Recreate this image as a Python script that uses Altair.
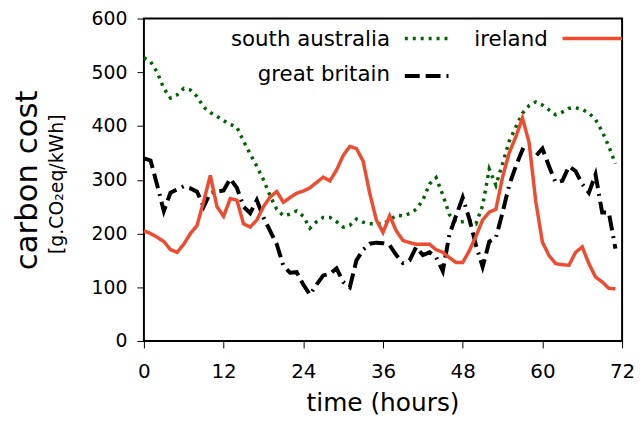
import altair as alt
import pandas as pd

hours = list(range(72))

south_australia = [527, 520, 500, 470, 452, 458, 470, 467, 455, 435, 425, 418,
                   410, 403, 398, 372, 348, 325, 300, 270, 245, 233, 236, 242,
                   232, 210, 222, 230, 230, 222, 212, 215, 227, 221, 218, 218,
                   218, 225, 234, 233, 237, 245, 262, 292, 304, 272, 235, 221,
                   222, 224, 218, 252, 320, 290, 330, 372, 398, 424, 438, 445,
                   439, 430, 421, 426, 433, 434, 431, 424, 412, 390, 362, 330]

ireland = [205, 200, 193, 185, 170, 165, 180, 200, 215, 260, 308, 250,
           232, 265, 262, 218, 212, 225, 250, 268, 278, 258, 267, 275,
           279, 285, 295, 305, 298, 318, 345, 362, 358, 335, 275, 225,
           202, 233, 205, 187, 183, 180, 180, 180, 170, 165, 155, 146,
           146, 168, 195, 225, 240, 245, 305, 350, 380, 415, 369, 260,
           184, 159, 144, 142, 141, 165, 175, 144, 119, 110, 98, 97]

great_britain = [340, 336, 290, 242, 276, 282, 288, 284, 278, 250, 276, 278,
                 280, 302, 285, 250, 238, 262, 230, 205, 180, 140, 127, 128,
                 105, 86, 105, 122, 125, 135, 110, 100, 150, 170, 181, 183,
                 182, 178, 160, 145, 150, 175, 160, 165, 156, 130, 198, 233,
                 267, 227, 178, 138, 185, 192, 239, 290, 325, 356, 350, 344,
                 358, 325, 295, 298, 325, 316, 292, 276, 310, 239, 239, 172]

series_names = ["south australia", "great britain", "ireland"]
series_values = [south_australia, great_britain, ireland]
series_colors = ["#006400", "#000000", "#ee4b2f"]
series_dash = [[3, 5], [15, 6, 15, 6, 2, 6], [1, 0]]
series_width = [3.5, 4, 3.5]

x_ticks = [0, 12, 24, 36, 48, 60, 72]
y_ticks = [0, 100, 200, 300, 400, 500, 600]

FONT = "DejaVu Sans"
W, H = 482, 325

rows = []
for name, vals in zip(series_names, series_values):
    for h, v in zip(hours, vals):
        rows.append({"hour": h, "value": v, "series": name})
df = pd.DataFrame(rows)

xscale = alt.Scale(domain=[0, 72], nice=False, zero=False)
yscale = alt.Scale(domain=[0, 600], nice=False)

layers = []
for name, color, dash, sw in zip(series_names, series_colors, series_dash, series_width):
    line = alt.Chart(df).transform_filter(
        alt.datum.series == name
    ).mark_line(color=color, strokeWidth=sw, strokeDash=dash, strokeCap="butt",
                strokeJoin="miter").encode(
        x=alt.X("hour:Q", scale=xscale,
                axis=alt.Axis(values=x_ticks, title=None, labelPadding=14,
                              labelFlush=False, labelFontSize=20)),
        y=alt.Y("value:Q", scale=yscale,
                axis=alt.Axis(values=y_ticks, title=None, labelPadding=10,
                              labelFlush=False, labelFontSize=19)),
    )
    layers.append(line)

one = alt.Data(values=[{"a": 1}])


def text(t, x, y, size, align="center", angle=0, baseline="alphabetic"):
    kw = dict(text=t, fontSize=size, font=FONT, color="black", align=align,
              baseline=baseline)
    if angle:
        kw["angle"] = angle
    return alt.Chart(one).mark_text(**kw).encode(x=alt.value(x), y=alt.value(y))


def sample(x1, x2, y, color, dash, sw):
    return alt.Chart(one).mark_rule(color=color, strokeWidth=sw, strokeDash=dash,
                                    strokeCap="butt").encode(
        x=alt.value(x1), x2=alt.value(x2), y=alt.value(y))


legend_layers = [
    text("south australia", 248, 28, 21.5, align="right"),
    sample(263, 308, 20, series_colors[0], series_dash[0], series_width[0]),
    text("ireland", 407, 28, 21.5, align="right"),
    sample(422, 482, 20, series_colors[2], series_dash[2], series_width[2]),
    text("great britain", 248, 63, 21.5, align="right"),
    sample(263, 308, 58, series_colors[1], series_dash[1], series_width[1]),
]

title_layers = [
    text("time (hours)", W / 2, 396, 25),
    text("carbon cost", -108, 163, 31, angle=270),
    text("[g.CO\u2082eq/kWh]", -82, 167, 19, angle=270),
]

chart = alt.layer(*layers, *legend_layers, *title_layers).properties(
    width=W, height=H,
    autosize=alt.AutoSizeParams(type="none"),
    padding={"left": 137, "top": 9, "right": 12, "bottom": 79},
).configure_view(
    stroke="black", strokeWidth=2
).configure_axis(
    domain=False, grid=False, tickColor="black", tickWidth=1, tickSize=7,
    labelFont=FONT, labelColor="black",
)

chart.save("out.html", embed_options={"renderer": "svg", "actions": False})
